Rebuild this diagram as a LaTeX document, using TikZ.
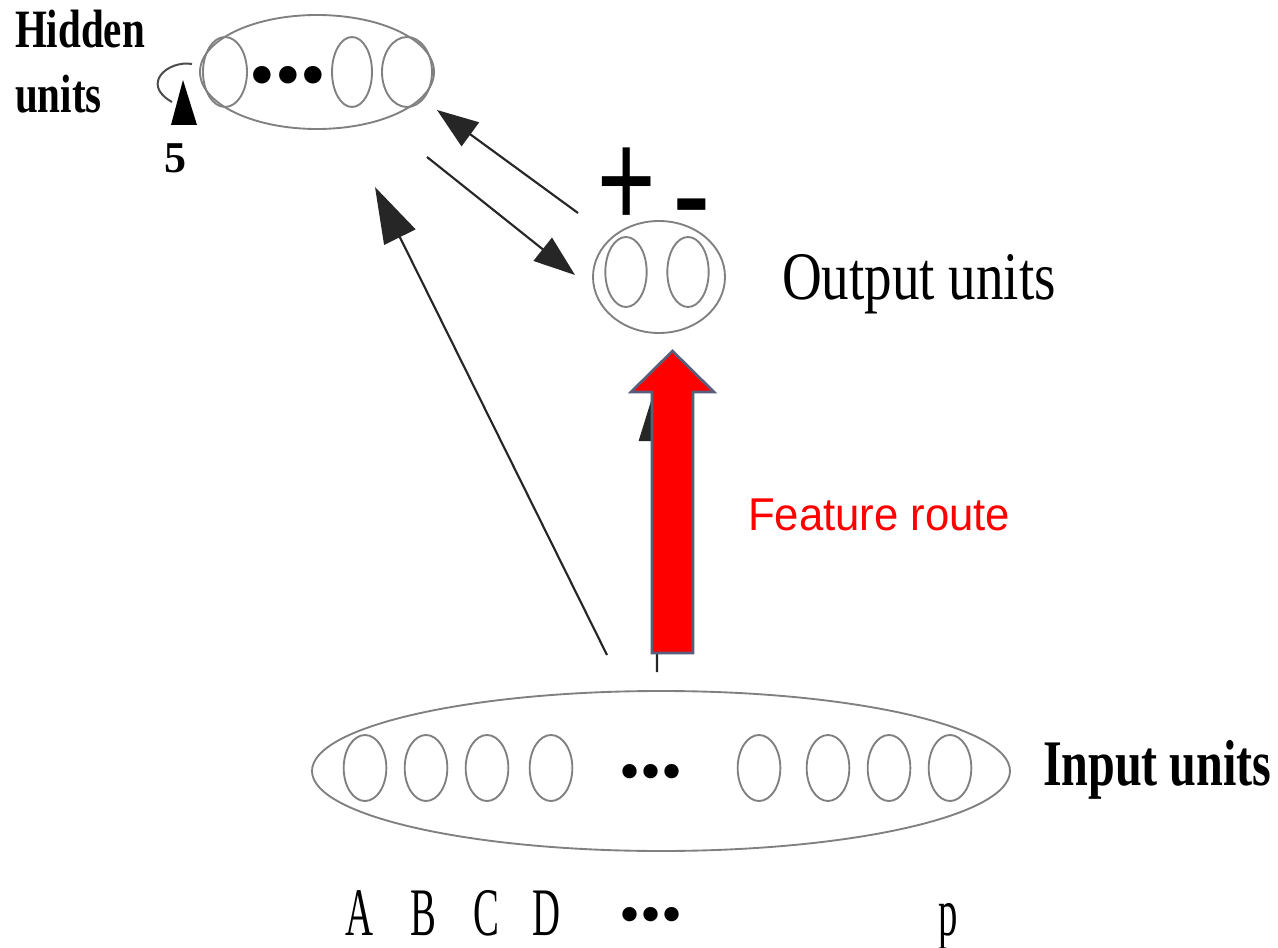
\documentclass[tikz,border=0pt]{standalone}
\usepackage{fontspec}
\setmainfont{Liberation Serif}
\newfontfamily\sansf{Liberation Sans}
\usetikzlibrary{shapes.geometric,arrows.meta}
\begin{document}
\begin{tikzpicture}[x=0.75pt,y=-0.75pt,
  ell/.style={draw=black!50, line width=1.4pt, ellipse, inner sep=0pt, outer sep=0pt},
  unitin/.style={ell, minimum width=32pt, minimum height=49.5pt},
  unitout/.style={ell, minimum width=31pt, minimum height=52.5pt},
  conn/.style={draw=black!85, line width=1.6pt},
  tipA/.style={-{Triangle[length=31pt,width=22pt]}},
  tipB/.style={-{Triangle[length=42pt,width=26pt]}},
  txt/.style={inner sep=0pt, outer sep=0pt},
  bigarrow/.style={fill=red, draw={rgb,255:red,88;green,95;blue,125}, line width=2pt, line join=miter},
]
\useasboundingbox (0,0) rectangle (1278,948);
\fill[white] (0,0) rectangle (1278,948);

% ---------- hidden units ----------
\node[ell, minimum width=175.5pt, minimum height=85.5pt] (hid) at (317,72) {};
\node[ell, minimum width=33pt, minimum height=52.5pt] (h1) at (225,72) {};
\node[ell, minimum width=30pt, minimum height=52.5pt] (h2) at (352,72) {};
\node[ell, minimum width=37.5pt, minimum height=52.5pt] (h3) at (407,72) {};
\node[txt, anchor=base] (hdots) at (288,100) {\fontsize{55pt}{55pt}\selectfont •••};

\node[txt, anchor=base west] (hidlbl1) at (15,48) {\fontsize{40.5pt}{40.5pt}\selectfont\bfseries\scalebox{0.76}[1]{Hidden}};
\node[txt, anchor=base west] (hidlbl2) at (15,113) {\fontsize{40.5pt}{40.5pt}\selectfont\bfseries\scalebox{0.76}[1]{units}};

% self loop
\coordinate (l0) at (192,64);
\draw[draw=black!70, line width=1.5pt] (l0) .. controls (168,60) and (140,84) .. (172,102);
\fill[black] (183,80) -- (197,125) -- (171,125) -- cycle;
\node[txt, anchor=base] (five) at (175,173) {\fontsize{33pt}{33pt}\selectfont\bfseries 5};

% ---------- output units ----------
\node[ell, minimum width=99pt, minimum height=84pt] (out) at (659,277) {};
\node[unitout] (o1) at (626,272) {};
\node[unitout] (o2) at (688,272) {};
\node[txt, anchor=base] (plus) at (627,228) {\sansf\fontsize{75pt}{75pt}\selectfont\scalebox{1}[1.38]{+}};
\node[txt, anchor=base] (minus) at (692,230) {\sansf\bfseries\fontsize{72pt}{72pt}\selectfont\scalebox{1.15}[1]{-}};
\node[txt, anchor=base west] (outlbl) at (782,300) {\fontsize{51pt}{51pt}\selectfont\scalebox{0.81}[1]{Output units}};

% ---------- input units ----------
\node[ell, minimum width=523.5pt, minimum height=120pt] (inp) at (661,771) {};
\node[unitin] (iA) at (365,768) {};
\node[unitin] (iB) at (426,768) {};
\node[unitin] (iC) at (487,768) {};
\node[unitin] (iD) at (551,768) {};
\node[unitin] (iM) at (759,768) {};
\node[unitin] (iN) at (828,768) {};
\node[unitin] (iO) at (889,768) {};
\node[unitin] (iP) at (950,768) {};
\node[txt, anchor=base] (idots) at (651,791) {\fontsize{45pt}{45pt}\selectfont •••};
\node[txt, anchor=base west] (inlbl) at (1043,785) {\fontsize{48.75pt}{48.75pt}\selectfont\bfseries\scalebox{0.74}[1]{Input units}};

% letters
\node[txt, anchor=base] (lA) at (359,935) {\fontsize{51pt}{51pt}\selectfont\scalebox{0.57}[1]{A}};
\node[txt, anchor=base] (lB) at (423,935) {\fontsize{51pt}{51pt}\selectfont\scalebox{0.57}[1]{B}};
\node[txt, anchor=base] (lC) at (486,935) {\fontsize{51pt}{51pt}\selectfont\scalebox{0.57}[1]{C}};
\node[txt, anchor=base] (lD) at (546,935) {\fontsize{51pt}{51pt}\selectfont\scalebox{0.57}[1]{D}};
\node[txt, anchor=base] (ldots) at (651,934) {\fontsize{45pt}{45pt}\selectfont •••};
\node[txt, anchor=base] (lp) at (948,935) {\fontsize{51pt}{51pt}\selectfont\scalebox{0.57}[1]{p}};

% ---------- connectors ----------
\coordinate (a1s) at (578,213); \coordinate (a1e) at (437,110);
\draw[conn,tipA] (a1s) -- (a1e);
\coordinate (a2s) at (427,157); \coordinate (a2e) at (575,275);
\draw[conn,tipA] (a2s) -- (a2e);
\coordinate (a3s) at (607,655); \coordinate (a3e) at (375,187);
\draw[conn,tipB] (a3s) -- (a3e);
\coordinate (a4s) at (657,672); \coordinate (a4e) at (656,385);
\draw[conn,tipB] (a4s) -- (a4e);

% red feature route arrow
\draw[bigarrow] (652,653) -- (693,653) -- (693,392) -- (714,392) -- (672.5,351) -- (631,392) -- (652,392) -- cycle;
\node[txt, anchor=base west, text=red] (feat) at (748,530) {\sansf\fontsize{34.5pt}{34.5pt}\selectfont\scalebox{0.95}[1]{Feature route}};
\end{tikzpicture}
\end{document}
